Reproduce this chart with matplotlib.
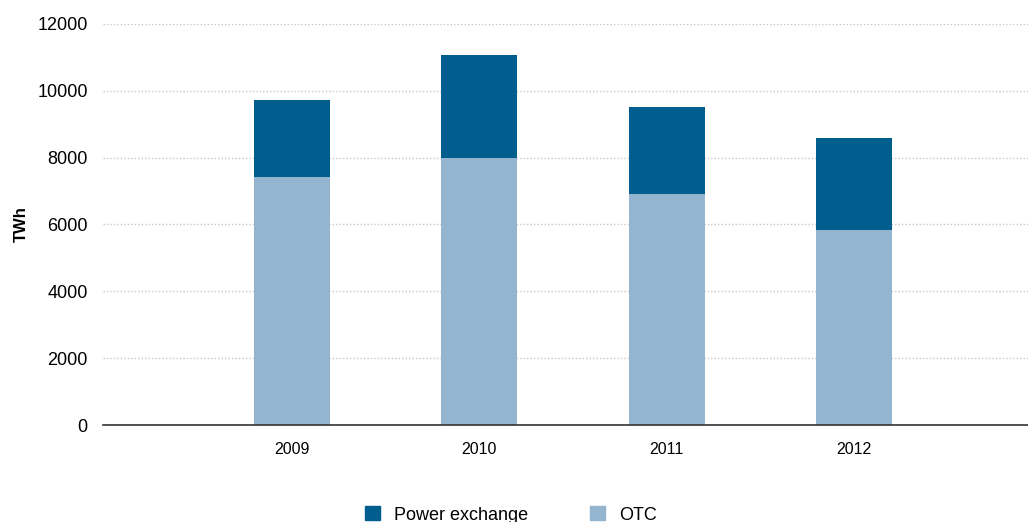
import numpy as np
import matplotlib.pyplot as plt
from matplotlib.patches import Patch

plt.rcParams['font.family'] = ['Liberation Sans', 'DejaVu Sans']

years = ['2009', '2010', '2011', '2012']
otc = [7430, 7980, 6925, 5850]
power_exchange = [2300, 3095, 2597, 2747]

dark = '#005E8F'
light = '#93B5CF'

fig = plt.figure(figsize=(10.28, 5.22), dpi=100)
ax = fig.add_axes([103/1028, 97/522, 1 - 103/1028, 401/522])

x = np.arange(len(years))
w = 0.406
ax.bar(x, otc, w, color=light, zorder=3)
ax.bar(x, power_exchange, w, bottom=otc, color=dark, zorder=3)

ax.set_xlim(-1.009, 3.929)
ax.set_ylim(0, 12000)
ax.set_yticks(np.arange(0, 12001, 2000))
ax.set_xticks(x)
ax.set_xticklabels(years, fontsize=11.5)
ax.tick_params(axis='y', labelsize=13, length=0, pad=11)
ax.tick_params(axis='x', length=0, pad=12)
ax.yaxis.grid(True, linestyle=(0, (1, 1.5)), color='#c8c8c8', linewidth=1, zorder=0)

for s in ['top', 'right', 'left']:
    ax.spines[s].set_visible(False)
ax.spines['bottom'].set_color('#333333')
ax.spines['bottom'].set_linewidth(1.2)
ax.spines['bottom'].set_zorder(4)

ax.set_ylabel('TWh', fontsize=12, fontweight='bold')
ax.yaxis.set_label_coords(-0.08, 0.5)

handles = [Patch(color=dark, label='Power exchange'), Patch(color=light, label='OTC')]
fig.legend(handles=handles, loc='center', bbox_to_anchor=(511/1028, 7/522), ncol=2,
           frameon=False, fontsize=13, handlelength=0.83, handleheight=0.83,
           columnspacing=3.4, handletextpad=0.8)

fig.savefig('out.png', dpi=100)
